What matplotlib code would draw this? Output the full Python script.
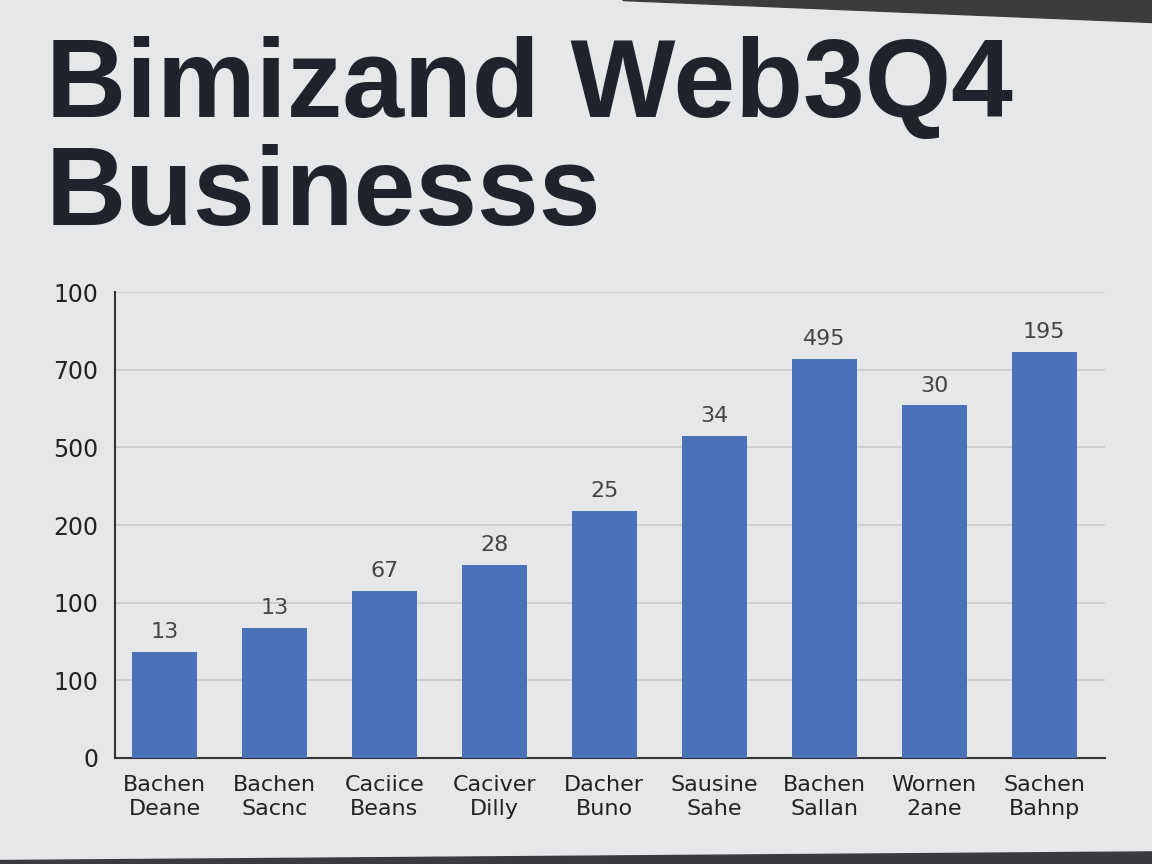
import matplotlib.pyplot as plt
from matplotlib.patches import Polygon

title_lines = ["Bimizand Web3Q4", "Businesss"]
categories = ["Bachen\nDeane", "Bachen\nSacnc", "Caciice\nBeans", "Caciver\nDilly", "Dacher\nBuno",
              "Sausine\nSahe", "Bachen\nSallan", "Wornen\n2ane", "Sachen\nBahnp"]
values = [137, 168, 215, 249, 318, 415, 514, 454, 523]
bar_labels = ["13", "13", "67", "28", "25", "34", "495", "30", "195"]
ytick_pos = [0, 100, 200, 300, 400, 500, 600]
ytick_labels = ["0", "100", "100", "200", "500", "700", "100"]

BG = "#e6e7e9"
BAR = "#4a72b8"
TXT = "#222222"

def main():

	fig = plt.figure(figsize=(11.52, 8.64), dpi=100)
	fig.patch.set_facecolor(BG)

	# dark screen edges from the photo
	fig.patches.append(Polygon([(0.54, 1), (1, 1), (1, 0.974)], closed=True,
							   transform=fig.transFigure, color="#3c3c3f", zorder=0))
	fig.patches.append(Polygon([(0, 0), (0, 0.004), (1, 0.014), (1, 0)], closed=True,
							   transform=fig.transFigure, color="#3a3b3f", zorder=0))

	# title, one baseline per line
	for line, ybase in zip(title_lines, [0.8646, 0.7396]):
		fig.text(0.040, ybase, line, fontsize=80, fontweight="bold", family="Liberation Sans",
				color="#20222c", va="baseline", ha="left")

	ax = fig.add_axes([0.0998, 0.1227, 0.8592, 0.5393])
	ax.set_facecolor(BG)

	x = list(range(len(categories)))
	bars = ax.bar(x, values, width=0.59, color=BAR, zorder=3)

	for rect, lab in zip(bars, bar_labels):
		ax.annotate(lab, (rect.get_x() + rect.get_width() / 2, rect.get_height()),
					xytext=(0, 7), textcoords="offset points", ha="center", va="bottom",
					fontsize=16, color="#444444")

	ax.set_xlim(-0.45, 8.55)
	ax.set_ylim(0, 600)
	ax.set_yticks(ytick_pos)
	ax.set_yticklabels(ytick_labels, fontsize=17, color=TXT)
	ax.set_xticks(x)
	ax.set_xticklabels(categories, fontsize=16, color=TXT, linespacing=1.3)
	ax.tick_params(axis="both", length=0)
	ax.tick_params(axis="y", pad=12)
	ax.tick_params(axis="x", pad=12)

	ax.grid(axis="y", color="#c9cacc", linewidth=1.2, zorder=0)
	for side in ["top", "right"]:
		ax.spines[side].set_visible(False)
	ax.spines["left"].set_color("#333333")
	ax.spines["bottom"].set_color("#333333")
	ax.spines["left"].set_linewidth(1.5)
	ax.spines["bottom"].set_linewidth(1.5)

	fig.savefig("out.png", dpi=100, facecolor=BG)

if __name__ == "__main__":
	main()
